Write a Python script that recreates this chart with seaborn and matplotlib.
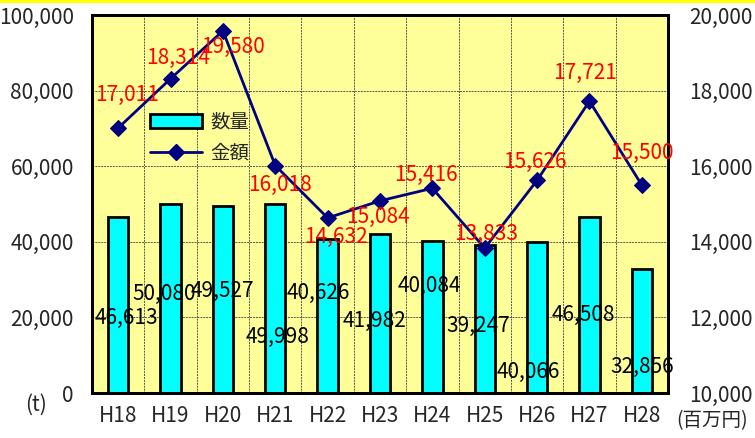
import matplotlib
matplotlib.use('Agg')
import matplotlib.pyplot as plt
import seaborn as sns
import pandas as pd
from matplotlib.patches import Patch
from matplotlib.lines import Line2D

# データ
years = ['H18', 'H19', 'H20', 'H21', 'H22', 'H23', 'H24', 'H25', 'H26', 'H27', 'H28']
quantity = [46613, 50080, 49527, 49998, 40626, 41982, 40084, 39247, 40066, 46508, 32856]
amount = [17011, 18314, 19580, 16018, 14632, 15084, 15416, 13833, 15626, 17721, 15500]

# ラベル位置（Excel の配置を再現）
qty_label_dx = [0.15, -0.13, 0.0, 0.05, -0.17, -0.11, -0.06, -0.13, -0.17, -0.11, 0.0]
qty_label_y = [19840, 26190, 27000, 14800, 26450, 19050, 28300, 17700, 5600, 20600, 6900]
amt_label_dx = [0.17, 0.15, 0.19, 0.09, 0.15, -0.04, -0.13, 0.03, -0.04, -0.08, 0.0]
amt_label_y = [17884, 18862, 19153, 15503, 14127, 14656, 15767, 14206, 16111, 18466, 16349]

df = pd.DataFrame({'year': years, 'quantity': quantity, 'amount': amount})

sns.set_style('white')
plt.rcParams['font.family'] = ['Noto Sans CJK JP', 'DejaVu Sans']
FS = 15

fig = plt.figure(figsize=(7.55, 4.38), dpi=100)
ax = fig.add_axes([92 / 755, 45 / 438, 576 / 755, 378 / 438])
ax.set_facecolor('#FFFF99')

sns.barplot(data=df, x='year', y='quantity', ax=ax, color='#00FFFF',
            edgecolor='black', linewidth=2, width=0.39, saturation=1, zorder=2)

ax.set_ylim(0, 100000)
ax.set_yticks(range(0, 100001, 20000))
ax.set_yticklabels([f'{v:,}' for v in range(0, 100001, 20000)], fontsize=FS)
ax.set_xlim(-0.5, len(years) - 0.5)
ax.set_xticks([i + 0.5 for i in range(len(years) - 1)], minor=True)
ax.tick_params(axis='both', which='both', length=0)
ax.tick_params(axis='y', pad=13)
ax.tick_params(axis='x', pad=9, labelsize=FS)
ax.grid(True, axis='y', which='major', linestyle=(0, (2, 1)), color='#555555', lw=0.7)
ax.grid(True, axis='x', which='minor', linestyle=(0, (2, 1)), color='#555555', lw=0.7)
ax.grid(False, axis='x', which='major')
ax.set_axisbelow(True)
ax.set_xlabel('')
ax.set_ylabel('')
for s in ax.spines.values():
    s.set_linewidth(2)
    s.set_color('black')

for i, (dx, y, v) in enumerate(zip(qty_label_dx, qty_label_y, quantity)):
    ax.text(i + dx, y, f'{v:,}', ha='center', va='center', fontsize=FS,
            color='black', zorder=5)

ax2 = ax.twinx()
sns.lineplot(data=df, x='year', y='amount', ax=ax2, color='#000080', lw=2,
             marker='D', markersize=8.5, markeredgecolor='#000080', sort=False)
ax2.set_ylim(10000, 20000)
ax2.set_yticks(range(10000, 20001, 2000))
ax2.set_yticklabels([f'{v:,}' for v in range(10000, 20001, 2000)], fontsize=FS)
ax2.tick_params(axis='y', length=0, pad=15)
ax2.set_ylabel('')
ax2.set_xlim(-0.5, len(years) - 0.5)
for s in ax2.spines.values():
    s.set_linewidth(2)
    s.set_color('black')

for i, (dx, y, v) in enumerate(zip(amt_label_dx, amt_label_y, amount)):
    ax2.text(i + dx, y, f'{v:,}', ha='center', va='center', fontsize=FS,
             color='#FF0000', zorder=5)

handles = [Patch(facecolor='#00FFFF', edgecolor='black', linewidth=2),
           Line2D([0], [0], color='#000080', lw=2, marker='D', markersize=8)]
ax2.legend(handles, ['数量', '金額'], loc='upper left', bbox_to_anchor=(0.07, 0.79),
           frameon=False, fontsize=14, handlelength=2.7, handleheight=0.7,
           labelspacing=0.5, handletextpad=0.4)

fig.text(36 / 755, 1 - 405 / 438, '(t)', ha='center', va='center', fontsize=FS)
fig.text(712 / 755, 1 - 421 / 438, '(百万円)', ha='center', va='center', fontsize=14)
fig.add_artist(Line2D([0, 1], [0.997, 0.997], color='#FFFF00', lw=3,
                      transform=fig.transFigure))

plt.savefig('out.png', dpi=100, facecolor='white')
plt.close()
